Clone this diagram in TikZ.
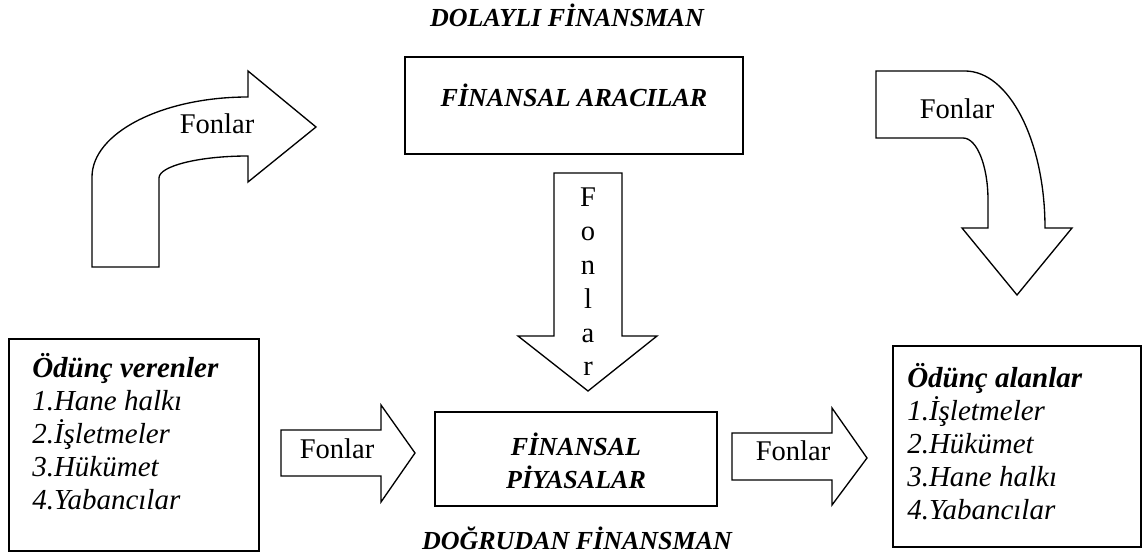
\documentclass[tikz,border=0pt]{standalone}
\usepackage{fontspec}
\setmainfont{Liberation Serif}
\usetikzlibrary{fit}
\begin{document}
\begin{tikzpicture}[x=0.75pt,y=-0.75pt,
  outline/.style={draw=black,line width=1pt,fill=white},
  boxnode/.style={draw=black,line width=1pt,inner sep=0pt},
  fonlar/.style={font=\fontsize{21.4}{25}\selectfont,inner sep=0pt,anchor=base},
  title/.style={font=\fontsize{19.5}{24.75}\bfseries\itshape\selectfont,inner sep=0pt,anchor=base},
  listtext/.style={font=\fontsize{21.75}{24.75}\itshape\selectfont,inner sep=0pt,anchor=north west,align=left}]
\useasboundingbox (0,0) rectangle (1143,559);

% boxes
\node[boxnode,fit={(405,57) (743,154)}] (inter) {};
\node[boxnode,fit={(435,412) (717,506)}] (market) {};
\node[boxnode,fit={(9,339) (259,551)}] (lenders) {};
\node[boxnode,fit={(893,346) (1141,547)}] (borrowers) {};

% titles
\node[title] (indirect) at (567,27) {DOLAYLI FİNANSMAN};
\node[title] (direct) at (577,550) {DOĞRUDAN FİNANSMAN};
\node[title] (interlbl) at (574,107) {FİNANSAL ARACILAR};
\node[title,align=center,anchor=north] (marketlbl) at (576,433) {FİNANSAL\\[-0.5pt]PİYASALAR};

% lists
\node[listtext] (lenderlist) at (32,353) {\textbf{Ödünç verenler}\\1.Hane halkı\\2.İşletmeler\\3.Hükümet\\4.Yabancılar};
\node[listtext] (borrowerlist) at (907,363) {\textbf{Ödünç alanlar}\\1.İşletmeler\\2.Hükümet\\3.Hane halkı\\4.Yabancılar};

% left curved arrow
\draw[outline] (92,267) -- (92,177)
  .. controls (92,133) and (162,97) .. (248,97)
  -- (248,71) -- (316,127) -- (248,182) -- (248,156)
  .. controls (199,156) and (159,166) .. (159,178)
  -- (159,267) -- cycle;
\node[fonlar] (f1) at (217,134) {Fonlar};

% right curved arrow
\draw[outline] (876,71) -- (965,71)
  .. controls (1009,71) and (1045,141) .. (1045,228)
  -- (1072,228) -- (1017,295) -- (962,228) -- (988,228) -- (988,200)
  .. controls (988,166) and (977,138) .. (963,138)
  -- (876,138) -- cycle;
\node[fonlar] (f2) at (957,119) {Fonlar};

% central down arrow
\draw[outline] (554,173) -- (622,173) -- (622,336) -- (657,336) -- (588,391)
  -- (518,336) -- (554,336) -- cycle;
\node[font=\fontsize{21.4}{25.35}\selectfont,inner sep=0pt,anchor=north,align=center] (f3) at (588,188) {F\\o\\n\\l\\a\\r};

% bottom left arrow
\draw[outline] (281,430) -- (381,430) -- (381,405) -- (415,453) -- (381,502)
  -- (381,476) -- (281,476) -- cycle;
\node[fonlar] (f4) at (337,459) {Fonlar};

% bottom right arrow
\draw[outline] (732,433) -- (832,433) -- (832,408) -- (867,458) -- (832,505)
  -- (832,480) -- (732,480) -- cycle;
\node[fonlar] (f5) at (793,461) {Fonlar};
\end{tikzpicture}
\end{document}
